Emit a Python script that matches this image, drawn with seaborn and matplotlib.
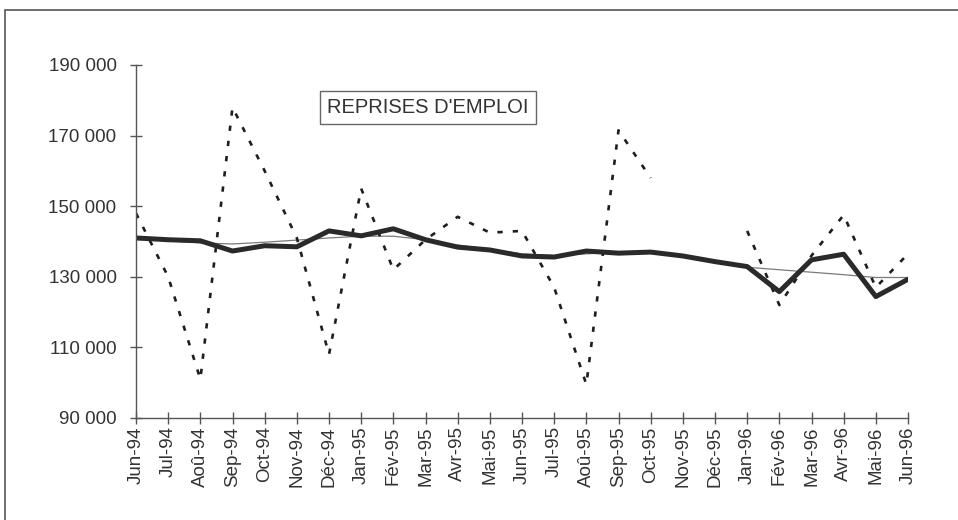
import numpy as np
import pandas as pd
import matplotlib
matplotlib.use("Agg")
import matplotlib.pyplot as plt
import seaborn as sns
from matplotlib.patches import Rectangle

# ── Données ───────────────────────────────────────────────────────────────────
MOIS = ["Jun-94", "Jul-94", "Aoû-94", "Sep-94", "Oct-94", "Nov-94", "Déc-94",
        "Jan-95", "Fév-95", "Mar-95", "Avr-95", "Mai-95", "Jun-95", "Jul-95",
        "Aoû-95", "Sep-95", "Oct-95", "Nov-95", "Déc-95", "Jan-96", "Fév-96",
        "Mar-96", "Avr-96", "Mai-96", "Jun-96"]

# données brutes (pointillés) - pas de valeur Nov-95 / Déc-95
BRUT = [148000, 130000, 101000, 178000, 160000, 141000, 108000,
        155000, 132000, 140500, 147000, 142500, 143000, 127000,
        99500, 171500, 158000, np.nan, np.nan, 143000, 122000,
        136000, 147500, 127000, 136500]

# données CVS (trait épais)
CVS = [141000, 140500, 140200, 137300, 138800, 138500, 143000,
       141600, 143600, 140500, 138400, 137600, 135900, 135600,
       137300, 136700, 137000, 135900, 134300, 132900, 125800,
       134800, 136400, 124400, 129300]

# tendance (trait fin)
TENDANCE = [141000, 140200, 139600, 139300, 139800, 140400, 141000,
            141500, 141500, 140500, 139000, 137800, 136500, 136000,
            136500, 137000, 136800, 135800, 134500, 132700, 132000,
            131300, 130600, 129800, 129800]

Y_TICKS = [90000, 110000, 130000, 150000, 170000, 190000]
TITRE = "REPRISES D'EMPLOI"

# ── Tableau ───────────────────────────────────────────────────────────────────
df = pd.DataFrame({"x": np.arange(len(MOIS)), "mois": MOIS,
                   "brut": BRUT, "cvs": CVS, "tendance": TENDANCE})
# segments continus pour la série brute (coupure là où il manque des valeurs)
df["segment"] = df["brut"].isna().cumsum()
brut = df.dropna(subset=["brut"])

# ── Graphique ─────────────────────────────────────────────────────────────────
sns.set_style("white")
plt.rcParams["font.family"] = ["Liberation Sans", "DejaVu Sans"]

fig = plt.figure(figsize=(9.58, 5.2), dpi=100)
ax = fig.add_axes([136 / 958, 1 - 418 / 520, (908 - 136) / 958, (418 - 65) / 520])

sns.lineplot(data=df, x="x", y="tendance", ax=ax, color="#7a7a7a", lw=0.9)
sns.lineplot(data=brut, x="x", y="brut", units="segment", estimator=None, ax=ax,
             color="#1e1e1e", lw=1.9, dashes=False, linestyle=(0, (2.0, 3.8)))
sns.lineplot(data=df, x="x", y="cvs", ax=ax, color="#2a2a2a", lw=3.6)

ax.set_xlim(0, len(MOIS) - 1)
ax.set_ylim(Y_TICKS[0], Y_TICKS[-1])
ax.set_xticks(df["x"])
ax.set_xticklabels(MOIS, rotation=90, fontsize=13.5, color="#333333")
ax.set_yticks(Y_TICKS)
ax.set_yticklabels([f"{v:,}".replace(",", " ") for v in Y_TICKS],
                   fontsize=13.5, color="#333333")
ax.tick_params(axis="both", direction="inout", length=8, width=1,
               color="#555555", left=True, bottom=True)
ax.tick_params(axis="y", pad=10)
ax.tick_params(axis="x", pad=2)
ax.set_xlabel("")
ax.set_ylabel("")

sns.despine(ax=ax)
for s in ["left", "bottom"]:
    ax.spines[s].set_color("#555555")
    ax.spines[s].set_linewidth(1.0)

ax.text(9.08, 178000, TITRE, ha="center", va="center", fontsize=14.5,
        color="#333333",
        bbox=dict(boxstyle="square,pad=0.35", fc="white", ec="#666666", lw=1))

# cadre extérieur
fig.patches.append(Rectangle((5 / 958, -0.1), 1.2, 1 - 10 / 520 + 0.1,
                             transform=fig.transFigure, fill=False,
                             ec="#555555", lw=1.2))

plt.savefig("out.png", dpi=100)
